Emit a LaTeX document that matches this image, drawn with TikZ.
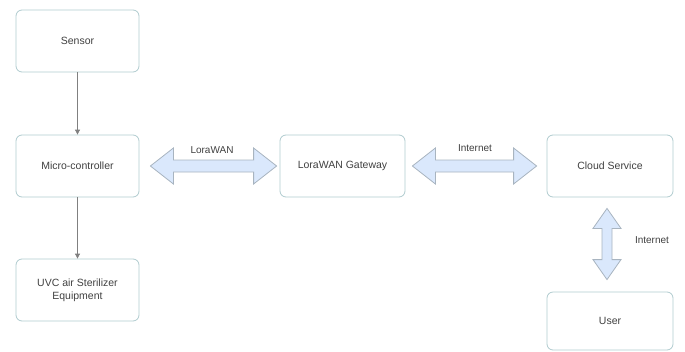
\documentclass[tikz,border=0pt]{standalone}
\usepackage{fontspec}
\setmainfont{Liberation Sans}
\usetikzlibrary{calc,arrows.meta}
\definecolor{boxline}{HTML}{AFCBCE}
\definecolor{txt}{HTML}{404040}
\definecolor{fatfill}{HTML}{DAE8FC}
\definecolor{fatline}{HTML}{A8B4C0}
\begin{document}
\begin{tikzpicture}[x=1pt,y=-1pt,
  box/.style={draw=boxline,line width=0.8pt,rounded corners=6pt,minimum width=123pt,minimum height=62pt,
     align=center,text=txt,font=\fontsize{10.5}{13}\selectfont,inner sep=2pt},
  lbl/.style={text=txt,font=\fontsize{10}{12}\selectfont,inner sep=1pt},
  conn/.style={draw=gray,line width=0.8pt,-{Triangle[length=5pt,width=5pt]}},
  fat/.style={fill=fatfill,draw=fatline,line width=0.8pt,line join=miter}]
\useasboundingbox (0,0) rectangle (685,351);
\node[box] (sensor) at (77.5,41) {Sensor};
\node[box] (mc) at (77.5,166) {Micro-controller};
\node[box] (uvc) at (77.5,290) {UVC air Sterilizer\\Equipment};
\node[box,minimum width=125pt] (gw) at (342.5,166) {LoraWAN Gateway};
\node[box,minimum width=126pt] (cloud) at (610,166) {Cloud Service};
\node[box,minimum width=126pt,minimum height=58pt] (user) at (610,321) {User};
\draw[conn] (sensor) -- (mc);
\draw[conn] (mc) -- (uvc);
% horizontal fat arrows
\coordinate (a1) at ($(mc.east)+(11,0)$);
\coordinate (a2) at ($(gw.west)+(-3,0)$);
\draw[fat] (a1) -- ($(a1)+(23,-18)$) -- ($(a1)+(23,-6)$) -- ($(a2)+(-23,-6)$) -- ($(a2)+(-23,-18)$) -- (a2)
  -- ($(a2)+(-23,18)$) -- ($(a2)+(-23,6)$) -- ($(a1)+(23,6)$) -- ($(a1)+(23,18)$) -- cycle;
\node[lbl] (l1) at (212,150) {LoraWAN};
\coordinate (b1) at ($(gw.east)+(7,0)$);
\coordinate (b2) at ($(cloud.west)+(-10,0)$);
\draw[fat] (b1) -- ($(b1)+(23,-18)$) -- ($(b1)+(23,-6)$) -- ($(b2)+(-23,-6)$) -- ($(b2)+(-23,-18)$) -- (b2)
  -- ($(b2)+(-23,18)$) -- ($(b2)+(-23,6)$) -- ($(b1)+(23,6)$) -- ($(b1)+(23,18)$) -- cycle;
\node[lbl] (l2) at (475,148) {Internet};
% vertical fat arrow
\coordinate (c1) at ($(cloud.south)+(-3,11)$);
\coordinate (c2) at ($(user.north)+(-3,-12)$);
\draw[fat] (c1) -- ($(c1)+(14,20)$) -- ($(c1)+(5,20)$) -- ($(c2)+(5,-20)$) -- ($(c2)+(14,-20)$) -- (c2)
  -- ($(c2)+(-14,-20)$) -- ($(c2)+(-5,-20)$) -- ($(c1)+(-5,20)$) -- ($(c1)+(-14,20)$) -- cycle;
\node[lbl] (l3) at (652,240) {Internet};
\end{tikzpicture}
\end{document}
